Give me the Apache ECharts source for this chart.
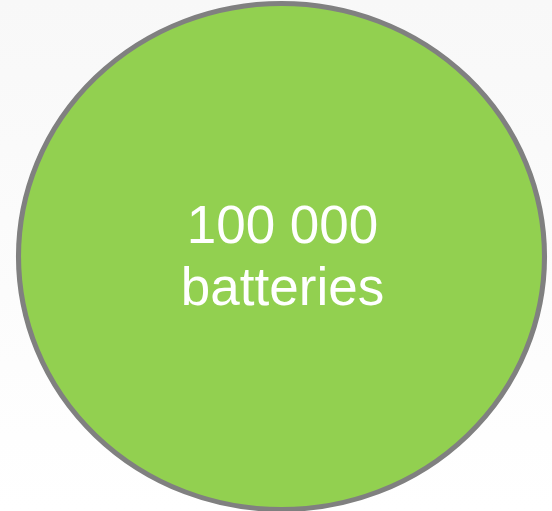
<!DOCTYPE html>
<html>
<head>
<meta charset="utf-8">
<script src="https://cdn.jsdelivr.net/npm/echarts@6/dist/echarts.min.js"></script>
<style>
html,body{margin:0;padding:0;width:552px;height:511px;overflow:hidden;}
#main{width:552px;height:511px;}
</style>
</head>
<body>
<div id="main"></div>
<script>
const categories = ['batteries'];
const values = [100000];
const unitLabel = 'batteries';

const chart = echarts.init(document.getElementById('main'));
function fmt(n){ return String(n).replace(/\B(?=(\d{3})+(?!\d))/g, ' '); }
chart.setOption({
  backgroundColor: {
    type: 'linear', x: 0, y: 0, x2: 0, y2: 1,
    colorStops: [{offset: 0, color: '#f8f8f8'}, {offset: 1, color: '#ffffff'}]
  },
  animation: false,
  grid: {left: 16, right: 5, top: 2, bottom: -2},
  xAxis: {type: 'category', data: categories, show: false},
  yAxis: {type: 'value', min: 0, max: values[0] * 2, show: false},
  series: [{
    type: 'scatter',
    data: values,
    symbol: 'circle',
    symbolSize: [526, 506],
    itemStyle: {color: '#92d050', borderColor: '#808080', borderWidth: 5, opacity: 1},
    label: {
      show: true,
      position: 'inside',
      offset: [1, 3],
      formatter: p => fmt(p.value) + '\n' + unitLabel,
      color: '#ffffff',
      fontSize: 53,
      lineHeight: 62,
      fontFamily: '"Liberation Sans", Arial, sans-serif'
    },
    emphasis: {disabled: true}
  }]
});
</script>
</body>
</html>
